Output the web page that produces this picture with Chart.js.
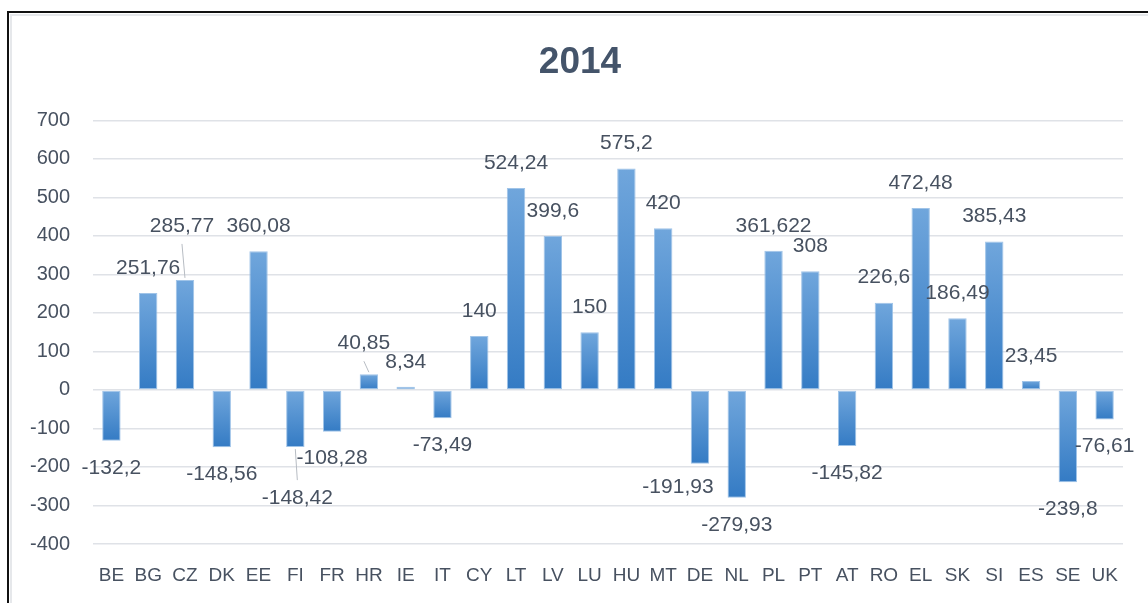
<!DOCTYPE html>
<html>
<head>
<meta charset="utf-8">
<script src="https://cdn.jsdelivr.net/npm/chart.js@4.4.1/dist/chart.umd.min.js"></script>
<style>
  html, body { margin: 0; padding: 0; background: #fff; overflow: hidden; }
  #wrap { position: relative; width: 1160px; height: 603px; }
  #chart { position: absolute; left: 0; top: 0; }
  #frame { position: absolute; left: 7px; top: 11px; right: 0; bottom: 0; border-left: 2px solid #111; border-top: 2px solid #111; pointer-events: none; }
  #frame::after { content: ""; position: absolute; left: 1px; top: 1px; right: 0; bottom: 0; border-left: 2px solid #e6e8eb; border-top: 2px solid #e6e8eb; }
</style>
</head>
<body>
<div id="wrap">
  <canvas id="chart" width="1160" height="603"></canvas>
  <div id="frame"></div>
</div>
<script>
const countries = ["BE", "BG", "CZ", "DK", "EE", "FI", "FR", "HR", "IE", "IT", "CY", "LT", "LV", "LU",
  "HU", "MT", "DE", "NL", "PL", "PT", "AT", "RO", "EL", "SK", "SI", "ES", "SE", "UK"];
const values = [-132.2, 251.76, 285.77, -148.56, 360.08, -148.42, -108.28, 40.85, 8.34, -73.49, 140, 524.24, 399.6, 150,
  575.2, 420, -191.93, -279.93, 361.622, 308, -145.82, 226.6, 472.48, 186.49, 385.43, 23.45, -239.8, -76.61];
const yTicks = [-400, -300, -200, -100, 0, 100, 200, 300, 400, 500, 600, 700];
const titleText = "2014";

// labels that were dragged away from their bar in the original: [dx, dy, leader line]
const labelNudge = { CZ: [-3, -29, true], FI: [2, 24, true], HR: [-5, -6, true], DE: [-22, -4, false] };

const font = '"Liberation Sans", Arial, sans-serif';
const textColor = "#475160";
const titleFont = { family: font, size: 37, weight: "bold", lineHeight: 1.2 };
const titlePad = { top: 29, bottom: 35 };
const fmt = (v) => String(v).replace(".", ",");

// vertical gradient per bar, light at the top, darker at the bottom
function barFill(c) {
  const chart = c.chart;
  if (!chart.chartArea || c.parsed === undefined) return "#5b9bd5";
  const v = c.parsed.y;
  const y = chart.scales.y;
  const top = y.getPixelForValue(Math.max(v, 0));
  const bottom = y.getPixelForValue(Math.min(v, 0));
  if (!isFinite(top) || !isFinite(bottom) || top === bottom) return "#5b9bd5";
  const g = chart.ctx.createLinearGradient(0, top, 0, bottom);
  g.addColorStop(0, "#70a6dc");
  g.addColorStop(1, "#347bc4");
  return g;
}

// the Excel title is centred on the whole chart box, not on the plot area
const centredTitle = {
  id: "centredTitle",
  afterDraw(chart) {
    const ctx = chart.ctx;
    const tb = chart.titleBlock;
    ctx.save();
    ctx.font = titleFont.weight + " " + titleFont.size + "px " + font;
    ctx.fillStyle = "#44546a";
    ctx.textAlign = "center";
    ctx.textBaseline = "middle";
    ctx.fillText(titleText, chart.width / 2, tb.top + titlePad.top + titleFont.size * titleFont.lineHeight / 2);
    ctx.restore();
  }
};

const valueLabels = {
  id: "valueLabels",
  afterDatasetsDraw(chart) {
    const ctx = chart.ctx;
    const meta = chart.getDatasetMeta(0);
    ctx.save();
    ctx.font = "21px " + font;
    ctx.textAlign = "center";
    ctx.textBaseline = "middle";
    meta.data.forEach((bar, i) => {
      const v = values[i];
      const nudge = labelNudge[countries[i]] || [0, 0, false];
      const x = bar.x + nudge[0];
      const y = (v >= 0 ? bar.y - 25 : bar.y + 27) + nudge[1];
      if (nudge[2]) {
        const dir = v >= 0 ? 1 : -1;
        ctx.strokeStyle = "#b7bcc3";
        ctx.lineWidth = 1;
        ctx.beginPath();
        ctx.moveTo(x, y + dir * 18);
        ctx.lineTo(bar.x, bar.y - dir * 2);
        ctx.stroke();
      }
      ctx.fillStyle = textColor;
      ctx.fillText(fmt(v), x, y);
    });
    ctx.restore();
  }
};

new Chart(document.getElementById("chart"), {
  type: "bar",
  data: {
    labels: countries,
    datasets: [{
      data: values,
      backgroundColor: barFill,
      borderColor: "rgba(150,190,230,0.9)",
      borderWidth: 1,
      borderSkipped: false,
      barPercentage: 0.5,
      categoryPercentage: 1
    }]
  },
  options: {
    responsive: false,
    animation: false,
    layout: { padding: { top: 12, right: 37, bottom: 0, left: 0 } },
    plugins: {
      legend: { display: false },
      tooltip: { enabled: false },
      // keeps the room for the title; the text itself is drawn by centredTitle
      title: {
        display: true,
        text: titleText,
        color: "rgba(0,0,0,0)",
        font: titleFont,
        padding: titlePad
      }
    },
    scales: {
      x: {
        grid: { display: false, drawTicks: false },
        border: { display: false },
        ticks: { color: textColor, font: { family: font, size: 19 }, padding: 20, maxRotation: 0, autoSkip: false },
        afterFit: (s) => { s.height = 59; }
      },
      y: {
        min: yTicks[0],
        max: yTicks[yTicks.length - 1],
        afterBuildTicks: (s) => { s.ticks = yTicks.map((v) => ({ value: v })); },
        grid: { color: "#dfe2e7", lineWidth: 1.5, drawTicks: false },
        border: { display: false },
        ticks: { color: textColor, font: { family: font, size: 20 }, padding: 23 },
        afterFit: (s) => { s.width = 93; }
      }
    }
  },
  plugins: [valueLabels, centredTitle]
});
</script>
</body>
</html>
